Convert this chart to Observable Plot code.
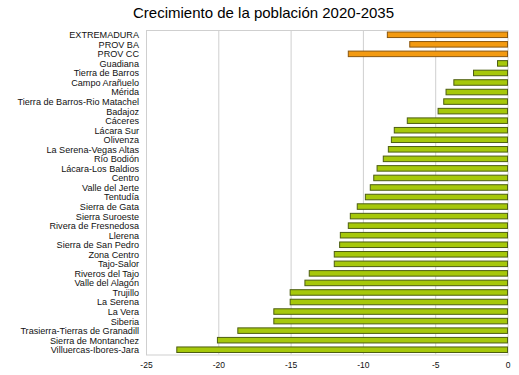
<!DOCTYPE html>
<html>
<head>
<meta charset="utf-8">
<script src="https://cdn.jsdelivr.net/npm/d3@7"></script>
<script src="https://cdn.jsdelivr.net/npm/@observablehq/plot@0.6"></script>
<style>
  html, body { margin: 0; padding: 0; background: #fff; }
  #wrap { position: relative; width: 519px; height: 375px; font-family: "Liberation Sans", Arial, sans-serif; }
  #title { position: absolute; left: 133px; top: 4.5px; font-size: 15px; line-height: 15px; color: #000; white-space: nowrap; }
  #chart { position: absolute; left: 0; top: 0; }
</style>
</head>
<body>
<div id="wrap">
  <div id="chart"></div>
  <div id="title">Crecimiento de la población 2020-2035</div>
</div>
<script>
const categories = [
  "EXTREMADURA", "PROV BA", "PROV CC", "Guadiana", "Tierra de Barros",
  "Campo Arañuelo", "Mérida", "Tierra de Barros-Rio Matachel", "Badajoz", "Cáceres",
  "Lácara Sur", "Olivenza", "La Serena-Vegas Altas", "Río Bodión", "Lácara-Los Baldios",
  "Centro", "Valle del Jerte", "Tentudía", "Sierra de Gata", "Sierra Suroeste",
  "Rivera de Fresnedosa", "Llerena", "Sierra de San Pedro", "Zona Centro", "Tajo-Salor",
  "Riveros del Tajo", "Valle del Alagón", "Trujillo", "La Serena", "La Vera",
  "Siberia", "Trasierra-Tierras de Granadill", "Sierra de Montanchez", "Villuercas-Ibores-Jara"
];
const values = [
  -8.31, -6.76, -11.01, -0.69, -2.35,
  -3.71, -4.25, -4.41, -4.80, -6.93,
  -7.83, -8.03, -8.24, -8.59, -9.02,
  -9.25, -9.49, -9.83, -10.39, -10.87,
  -11.01, -11.56, -11.61, -11.98, -11.98,
  -13.71, -14.01, -15.03, -15.03, -16.16,
  -16.16, -18.65, -20.06, -22.87
];
const levels = [
  "region", "provincia", "provincia", "comarca", "comarca",
  "comarca", "comarca", "comarca", "comarca", "comarca",
  "comarca", "comarca", "comarca", "comarca", "comarca",
  "comarca", "comarca", "comarca", "comarca", "comarca",
  "comarca", "comarca", "comarca", "comarca", "comarca",
  "comarca", "comarca", "comarca", "comarca", "comarca",
  "comarca", "comarca", "comarca", "comarca"
];
const xTicks = [-25, -20, -15, -10, -5, 0];
const gridTicks = [-20, -15, -10, -5];

const data = categories.map((c, i) => ({category: c, value: values[i], level: levels[i]}));
const isTotal = d => d.level !== "comarca";

const chart = Plot.plot({
  width: 519,
  height: 375,
  marginLeft: 146,
  marginRight: 11.5,
  marginTop: 30,
  marginBottom: 20.5,
  style: {fontFamily: "'Liberation Sans', Arial, sans-serif", fontSize: "9px", color: "#111", background: "#fff"},
  x: {domain: [-25, 0], label: null},
  y: {domain: categories, paddingInner: 0.42, paddingOuter: 0.21, round: false, label: null},
  marks: [
    Plot.ruleX(gridTicks, {stroke: "#cfcfcf", strokeWidth: 1}),
    Plot.frame({stroke: "#cfcfcf"}),
    Plot.barX(data.filter(d => !isTotal(d)), {x: "value", y: "category", fill: "#a6c80a", stroke: "#4d5e12", strokeWidth: 1}),
    Plot.barX(data.filter(isTotal), {x: "value", y: "category", fill: "#f39a11", stroke: "#8a5710", strokeWidth: 1}),
    Plot.axisX({ticks: xTicks, tickSize: 0, tickPadding: 7, fontSize: 8.5, tickFormat: d => (d < 0 ? "-" + Math.abs(d) : String(d))}),
    Plot.axisY({tickSize: 0, tickPadding: 7.5, fontSize: 9.1})
  ]
});
document.getElementById("chart").appendChild(chart);
</script>
</body>
</html>
